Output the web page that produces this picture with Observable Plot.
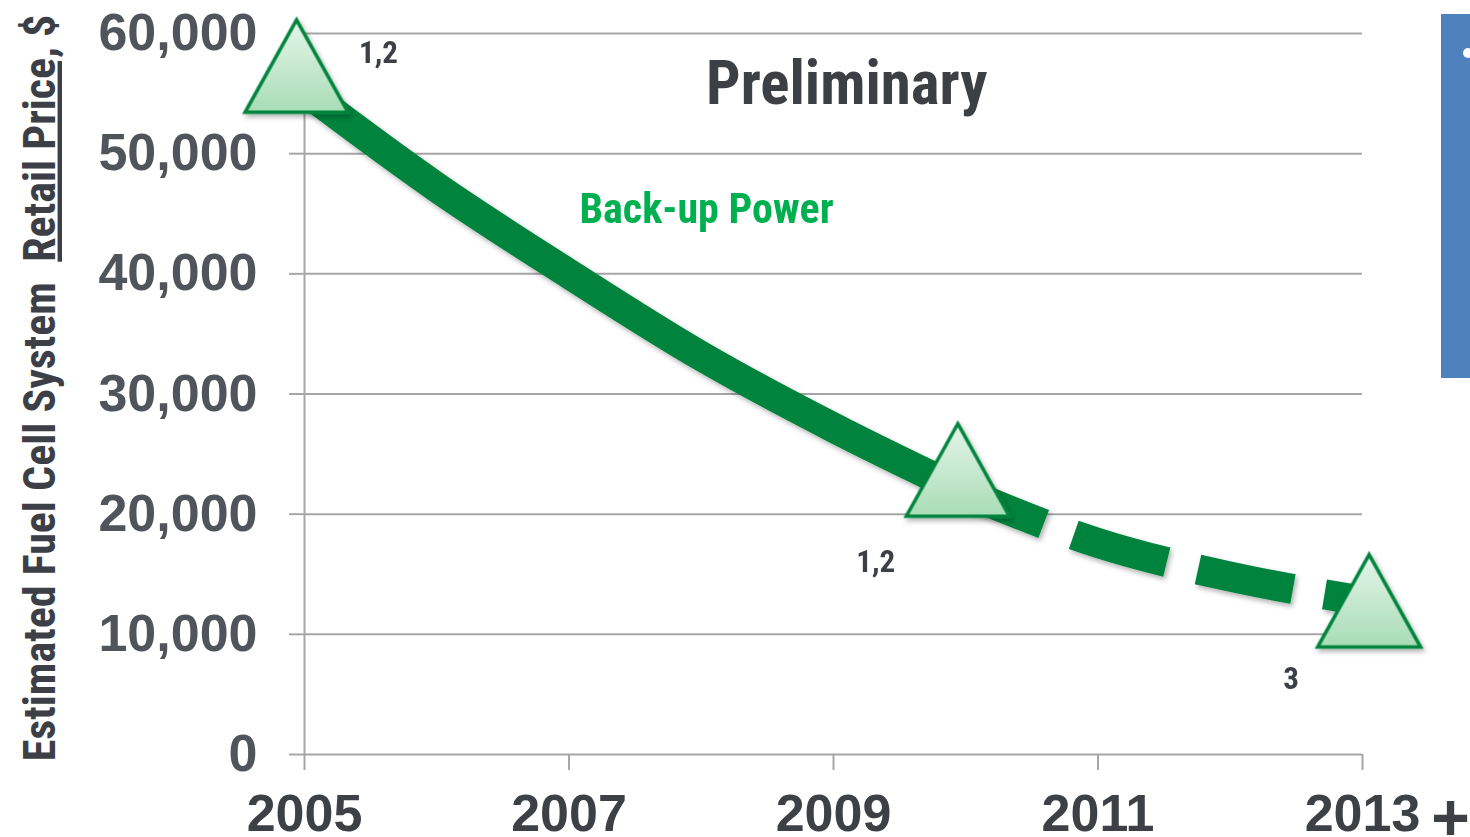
<!DOCTYPE html>
<html>
<head>
<meta charset="utf-8">
<script src="https://cdn.jsdelivr.net/npm/d3@7"></script>
<script src="https://cdn.jsdelivr.net/npm/@observablehq/plot@0.6"></script>
<style>
html, body { margin: 0; padding: 0; background: #fff; overflow: hidden; }
#wrap { position: relative; width: 1470px; height: 837px; }
#side { position: absolute; left: 1441px; top: 14px; width: 40px; height: 364px; background: #4f81bd; }
#bullet { position: absolute; left: 1463px; top: 48px; width: 10px; height: 10px; border-radius: 50%; background: #fff; }
#chart svg { position: absolute; left: 0; top: 0; }
</style>
</head>
<body>
<div id="wrap"><div id="chart"></div><div id="side"></div><div id="bullet"></div></div>
<script>
// ---- data ----
const curveYears = [2005, 2006, 2007, 2008, 2009, 2010, 2011, 2012, 2013];
const curvePrice = [55250, 47200, 40000, 33150, 27200, 21800, 17600, 14800, 12800];
const projectionStart = 2010;

const markerYears = [2004.94, 2009.94, 2013.05];
const markerPrice = [56000, 22400, 11500];

const noteText = ["1,2", "1,2", "3"];
const noteYears = [2005.56, 2009.32, 2012.46];
const notePrice = [58330, 15980, 6240];

const titleText = ["Preliminary", "Back-up Power"];
const titleYears = [2009.1, 2008.04];
const titlePrice = [55800, 45340];

const yTicks = [0, 10000, 20000, 30000, 40000, 50000, 60000];
const xTicks = [2005, 2007, 2009, 2011, 2013];
const xTickSuffix = "+";
const yLabel = ["Estimated Fuel Cell System  ", "Retail Price,", " $"];

// ---- tables ----
const curve = curveYears.map((year, i) => ({year, price: curvePrice[i]}));
const solid = curve.filter(d => d.year <= projectionStart);
const dashed = curve.filter(d => d.year >= projectionStart);
const markers = markerYears.map((year, i) => ({year, price: markerPrice[i]}));
const notes = noteText.map((text, i) => ({text, year: noteYears[i], price: notePrice[i]}));
const titles = titleText.map((text, i) => ({text, year: titleYears[i], price: titlePrice[i]}));

const NARROW = '"Liberation Sans Narrow", "Arial Narrow", "Roboto Condensed", "DejaVu Sans Condensed", sans-serif';
const WIDE = '"Liberation Sans", Arial, sans-serif';
const GRID = "#a6a6a6";
const GREEN = "#00843d";

// slightly tall triangle (centroid-centred)
const tallTriangle = {
  draw(context, size) {
    const r = Math.sqrt(size / Math.PI);
    const w = r * 1.338, h = r * 2.4;
    context.moveTo(0, -h * 2 / 3);
    context.lineTo(w, h / 3);
    context.lineTo(-w, h / 3);
    context.closePath();
  }
};

const chart = Plot.plot({
  width: 1470,
  height: 837,
  marginLeft: 304,
  marginRight: 108,
  marginTop: 33,
  marginBottom: 83,
  style: {background: "transparent", overflow: "visible", fontFamily: WIDE},
  x: {domain: [2005, 2013]},
  y: {domain: [0, 60000]},
  marks: [
    Plot.gridY(yTicks, {stroke: GRID, strokeOpacity: 1, strokeWidth: 2}),
    Plot.ruleX([2005], {y1: 0, y2: 60000, stroke: GRID, strokeWidth: 2}),
    Plot.axisY(yTicks, {
      tickSize: 15, tickPadding: 32, stroke: GRID, strokeWidth: 2, strokeOpacity: 1,
      tickFormat: d3.format(","), fill: "#50555c", fontSize: 52, fontWeight: "bold",
      fontFamily: WIDE, label: null
    }),
    Plot.axisX(xTicks, {
      tickSize: 16, tickPadding: 24, stroke: GRID, strokeWidth: 2, strokeOpacity: 1,
      tickFormat: d => String(d), fill: "#3d4045", fontSize: 52, fontWeight: "bold",
      fontFamily: WIDE, label: null
    }),
    Plot.text([xTicks[xTicks.length - 1]], {
      x: d => d, text: () => xTickSuffix, frameAnchor: "bottom", lineAnchor: "middle", dx: 88, dy: 64,
      fill: "#3d4045", fontSize: 66, fontWeight: "bold", fontFamily: WIDE
    }),
    Plot.text([yLabel.join("")], {
      frameAnchor: "left", textAnchor: "middle", dx: -264, dy: -6, rotate: -90,
      fill: "#3c4046", fontSize: 44, fontWeight: "bold", fontFamily: NARROW
    }),
    Plot.line(solid, {x: "year", y: "price", curve: "monotone-x", stroke: GREEN, strokeWidth: 30, strokeLinecap: "butt", strokeLinejoin: "round"}),
    Plot.line(dashed, {x: "year", y: "price", curve: "monotone-x", stroke: GREEN, strokeWidth: 30, strokeLinecap: "butt", strokeDasharray: "97,32", strokeDashoffset: 13}),
    Plot.dot(markers, {x: "year", y: "price", symbol: tallTriangle, r: 38.5, fill: "url(#triGrad)", stroke: GREEN, strokeWidth: 3.5, strokeLinejoin: "miter"}),
    Plot.text(notes, {x: "year", y: "price", text: "text", fill: "#3c4046", fontSize: 31, fontWeight: "bold", fontFamily: NARROW}),
    Plot.text(titles.slice(0, 1), {x: "year", y: "price", text: "text", fill: "#3c3f44", fontSize: 61, fontWeight: "bold", fontFamily: NARROW}),
    Plot.text(titles.slice(1), {x: "year", y: "price", text: "text", fill: "#00b050", fontSize: 42, fontWeight: "bold", fontFamily: NARROW})
  ]
});

// defs: gradient for triangles + drop shadow
const ns = "http://www.w3.org/2000/svg";
const defs = document.createElementNS(ns, "defs");
defs.innerHTML = `
  <linearGradient id="triGrad" x1="0" y1="0" x2="0" y2="1">
    <stop offset="0" stop-color="#e6f5ea"/>
    <stop offset="1" stop-color="#a8ddb6"/>
  </linearGradient>
  <filter id="shadow" x="-20%" y="-20%" width="140%" height="140%">
    <feDropShadow dx="2" dy="3" stdDeviation="2.5" flood-color="#000" flood-opacity="0.3"/>
  </filter>`;
chart.insertBefore(defs, chart.firstChild);
chart.querySelectorAll('g[aria-label="line"], g[aria-label="dot"]').forEach(g => g.setAttribute("filter", "url(#shadow)"));

// underline "Retail Price," in the y title
chart.querySelectorAll("text").forEach(t => {
  if (t.textContent === yLabel.join("")) {
    t.textContent = "";
    t.style.whiteSpace = "pre";
    yLabel.forEach((s, i) => {
      const ts = document.createElementNS(ns, "tspan");
      ts.textContent = s;
      if (i === 1) ts.setAttribute("text-decoration", "underline");
      t.appendChild(ts);
    });
  }
});

document.getElementById("chart").appendChild(chart);
</script>
</body>
</html>
